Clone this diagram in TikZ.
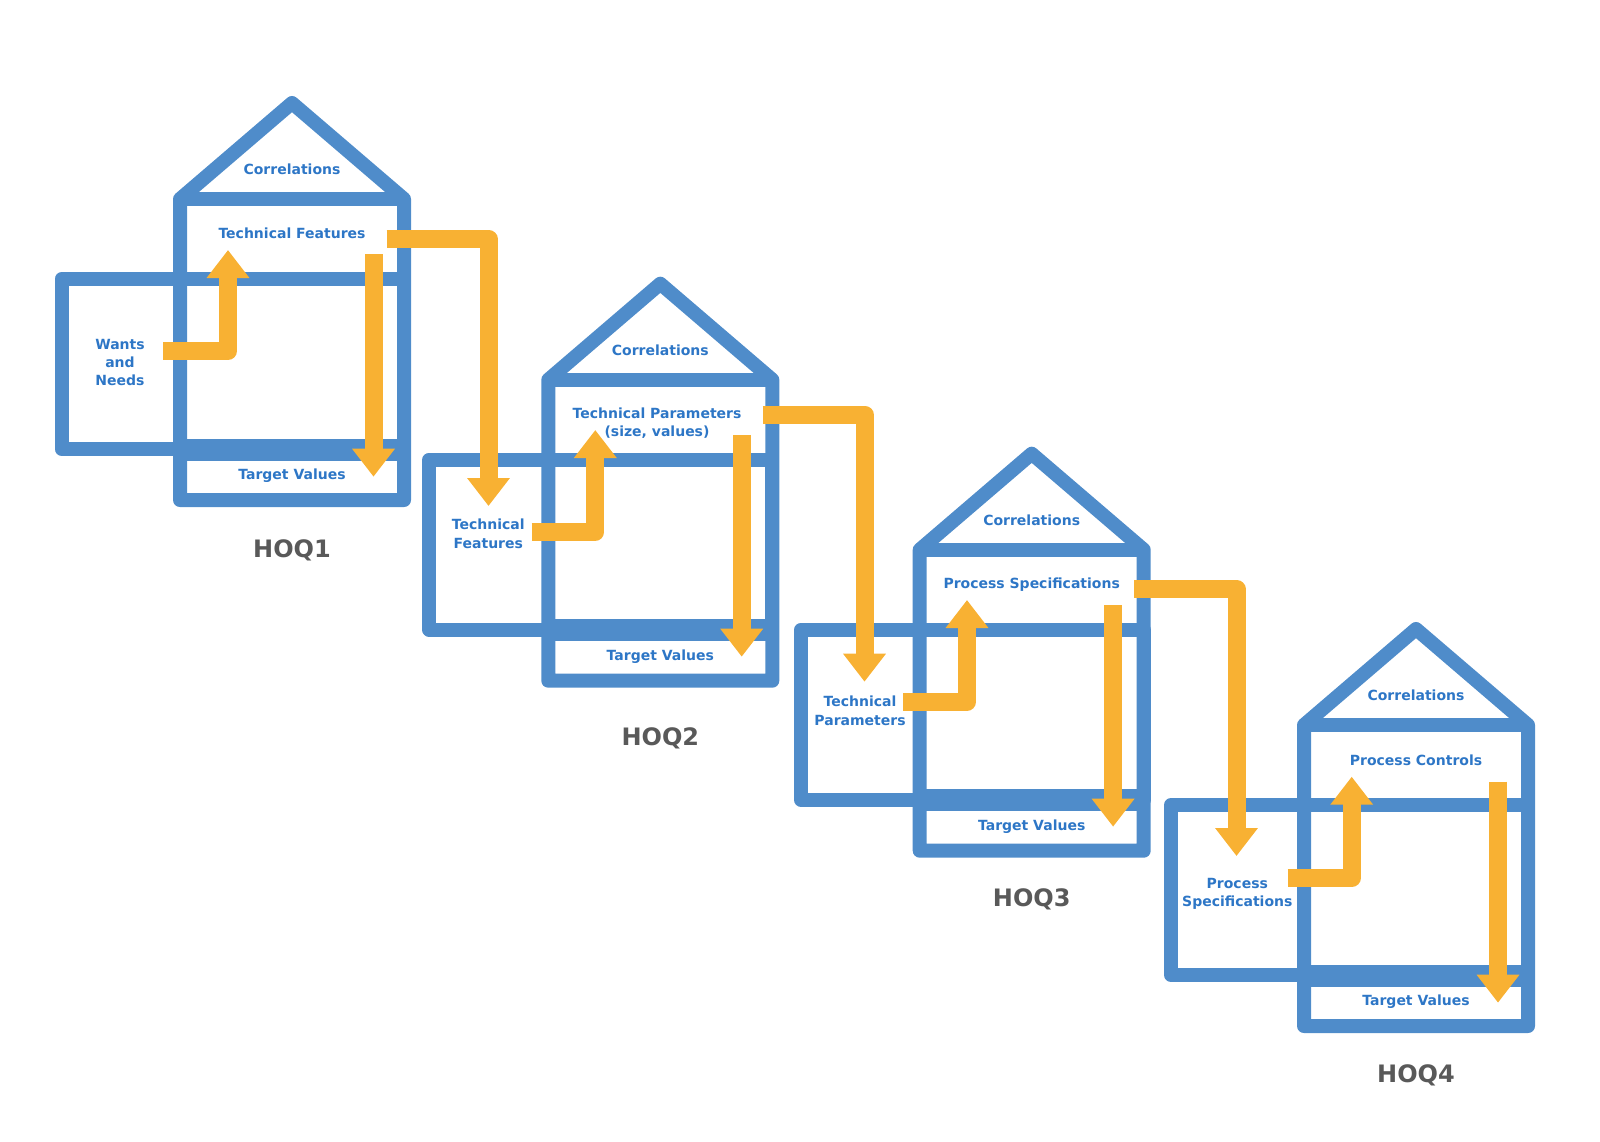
\documentclass[tikz,border=0pt]{standalone}
\usepackage{fontspec}
\setmainfont{DejaVu Sans}
\usetikzlibrary{arrows.meta}
\definecolor{hoqblue}{RGB}{79,140,202}
\definecolor{hoqtext}{RGB}{45,118,198}
\definecolor{hoqorange}{RGB}{248,177,51}
\definecolor{hoqgray}{RGB}{89,89,89}

\begin{document}
\begin{tikzpicture}[x=1pt,y=-1pt,
    wall/.style={draw=hoqblue,line width=14pt,line join=round},
    floor/.style={draw=hoqblue,line width=22pt},
    flow/.style={draw=hoqorange,line width=18pt,line join=round,-{Triangle[width=41pt,length=28pt]}},
    room/.style={text=hoqtext,font=\bfseries\fontsize{14}{18.3}\selectfont,align=center,inner sep=0pt},
    tag/.style={text=hoqgray,font=\bfseries\fontsize{24}{27}\selectfont,inner sep=0pt}]
    \useasboundingbox (0,0) rectangle (1600,1141);

    \begin{scope}[shift={(180,199)}]
        \draw[wall] (-118.5,80) rectangle (224,250);
        \draw[wall] (0,301) -- (0,0) -- (112,-96) -- (224,0) -- (224,301) -- cycle;
        \draw[wall] (0,0) -- (224,0);
        \draw[floor] (0,250.5) -- (224,250.5);
        \node[room] (corr1) at (112,-29.5) {Correlations};
        \node[room] (feat1) at (112,34.5) {Technical Features};
        \node[room] (tv1) at (112,277) {Target Values};
        \node[room] (wants1) at (-60,163.5) {Wants\\and\\Needs};
        \node[tag] (hoq1) at (112,351) {HOQ1};
        \coordinate (in1) at (-16.7,152);
        \coordinate (up1) at (48,51);
        \coordinate (top1) at (193.5,55);
        \coordinate (bot1) at (193.5,277.7);
        \coordinate (out1) at (206.7,40);
    \end{scope}

    \begin{scope}[shift={(548.3,379.7)}]
        \draw[wall] (-119,80) rectangle (224,250);
        \draw[wall] (0,301) -- (0,0) -- (112,-96) -- (224,0) -- (224,301) -- cycle;
        \draw[wall] (0,0) -- (224,0);
        \draw[floor] (0,250.5) -- (224,250.5);
        \node[room] (corr2) at (112,-29.5) {Correlations};
        \node[room] (param2) at (108.7,43.5) {Technical Parameters\\(size, values)};
        \node[room] (tv2) at (112,277) {Target Values};
        \node[room] (feat2) at (-60,154) {Technical\\Features};
        \node[tag] (hoq2) at (112,358.6) {HOQ2};
        \coordinate (drop2) at (-59.8,126.3);
        \coordinate (in2) at (-16.6,152.3);
        \coordinate (up2) at (47,50.3);
        \coordinate (top2) at (193.4,55.3);
        \coordinate (bot2) at (193.4,277);
        \coordinate (out2) at (214.4,34.8);
    \end{scope}

    \begin{scope}[shift={(919.7,549.7)}]
        \draw[wall] (-118.7,80) rectangle (224,250);
        \draw[wall] (0,301) -- (0,0) -- (112,-96) -- (224,0) -- (224,301) -- cycle;
        \draw[wall] (0,0) -- (224,0);
        \draw[floor] (0,250.5) -- (224,250.5);
        \node[room] (corr3) at (112,-29.5) {Correlations};
        \node[room] (spec3) at (112,34.5) {Process Specifications};
        \node[room] (tv3) at (112,277) {Target Values};
        \node[room] (param3) at (-59.7,161) {Technical\\Parameters};
        \node[tag] (hoq3) at (112,350) {HOQ3};
        \coordinate (drop3) at (-55.2,132);
        \coordinate (in3) at (-16.4,152);
        \coordinate (up3) at (47.3,50.3);
        \coordinate (top3) at (193.4,55.3);
        \coordinate (bot3) at (193.4,277);
        \coordinate (out3) at (214.3,39.5);
    \end{scope}

    \begin{scope}[shift={(1304,725)}]
        \draw[wall] (-133,80) rectangle (224,250);
        \draw[wall] (0,301) -- (0,0) -- (112,-96) -- (224,0) -- (224,301) -- cycle;
        \draw[wall] (0,0) -- (224,0);
        \draw[floor] (0,250.5) -- (224,250.5);
        \node[room] (corr4) at (112,-29.5) {Correlations};
        \node[room] (ctrl4) at (112,35) {Process Controls};
        \node[room] (tv4) at (112,277) {Target Values};
        \node[room] (spec4) at (-66.7,169) {Process\\Specifications};
        \node[tag] (hoq4) at (112,350) {HOQ4};
        \coordinate (drop4) at (-67.5,131);
        \coordinate (in4) at (-16.3,153);
        \coordinate (up4) at (47.7,51.7);
        \coordinate (top4) at (194,56.7);
        \coordinate (bot4) at (194,277.7);
    \end{scope}

    \draw[flow] (in1) -| (up1);
    \draw[flow] (top1) -- (bot1);
    \draw[flow] (out1) -| (drop2);
    \draw[flow] (in2) -| (up2);
    \draw[flow] (top2) -- (bot2);
    \draw[flow] (out2) -| (drop3);
    \draw[flow] (in3) -| (up3);
    \draw[flow] (top3) -- (bot3);
    \draw[flow] (out3) -| (drop4);
    \draw[flow] (in4) -| (up4);
    \draw[flow] (top4) -- (bot4);
\end{tikzpicture}
\end{document}
